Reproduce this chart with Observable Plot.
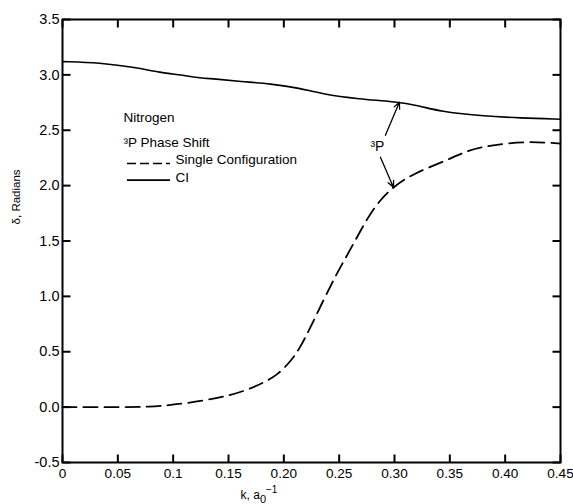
<!DOCTYPE html>
<html>
<head>
<meta charset="utf-8">
<script src="https://cdn.jsdelivr.net/npm/d3@7"></script>
<script src="https://cdn.jsdelivr.net/npm/@observablehq/plot@0.6"></script>
<style>
  html, body { margin: 0; padding: 0; background: white; }
  #chart { width: 573px; height: 504px; }
</style>
</head>
<body>
<div id="chart"></div>
<script>
// ---- data ----
const kCI     = [0, 0.034, 0.064, 0.089, 0.107, 0.125, 0.137, 0.161, 0.188, 0.215, 0.233, 0.269, 0.299, 0.323, 0.341, 0.378, 0.414, 0.45];
const deltaCI = [3.12, 3.11, 3.07, 3.02, 3.00, 2.97, 2.965, 2.94, 2.92, 2.88, 2.83, 2.78, 2.76, 2.72, 2.67, 2.63, 2.61, 2.60];

const kSC     = [0, 0.04, 0.08, 0.109, 0.14, 0.1635, 0.1816, 0.194, 0.206, 0.215, 0.224, 0.236, 0.248, 0.26, 0.2755, 0.287, 0.299, 0.317, 0.348, 0.366, 0.39, 0.42, 0.45];
const deltaSC = [0, 0, 0.0, 0.03, 0.08, 0.14, 0.22, 0.29, 0.41, 0.54, 0.72, 0.97, 1.21, 1.42, 1.71, 1.87, 1.99, 2.11, 2.23, 2.32, 2.37, 2.40, 2.38];

const xTicks      = [0, 0.05, 0.1, 0.15, 0.2, 0.25, 0.3, 0.35, 0.4, 0.45];
const xTickLabels = ["0", "0.05", "0.1", "0.15", "0.20", "0.25", "0.30", "0.35", "0.40", "0.45"];
const yTicks      = [-0.5, 0, 0.5, 1, 1.5, 2, 2.5, 3, 3.5];
const yTickLabels = ["-0.5", "0.0", "0.5", "1.0", "1.5", "2.0", "2.5", "3.0", "3.5"];

const legendTitle = ["Nitrogen", "³P Phase Shift"];
const seriesNames = ["Single Configuration", "CI"];
const annotationLabel = "³P";

// annotation anchors (data units)
const legendTextK = 0.0551;
const legendTitleDelta = [2.61, 2.39];
const legendLineK = [0.0587, 0.0976];
const legendLineDelta = [2.20, 2.05];
const legendLabelK = 0.102;
const legendLabelDelta = [2.23, 2.075];
const arrowK1 = [0.2918, 0.2873];
const arrowD1 = [2.455, 2.256];
const arrowK2 = [0.3044, 0.2990];
const arrowD2 = [2.753, 1.985];
const annotK = 0.2846, annotD = 2.35;

// ---- build tables ----
const xDomain = [0, 0.45], yDomain = [-0.5, 3.5];
const ci = kCI.map((k, i) => ({k, d: deltaCI[i]}));
const sc = kSC.map((k, i) => ({k, d: deltaSC[i]}));
const arrows = arrowK1.map((k, i) => ({x1: k, y1: arrowD1[i], x2: arrowK2[i], y2: arrowD2[i]}));
const xFmt = d => xTickLabels[xTicks.findIndex(t => Math.abs(t - d) < 1e-9)];
const yFmt = d => yTickLabels[yTicks.findIndex(t => Math.abs(t - d) < 1e-9)];

const font = "'Liberation Sans', Arial, Helvetica, sans-serif";
const W = 573, H = 504, mL = 62, mR = 13, mT = 19, mB = 42;
const fw = W - mL - mR, fh = H - mT - mB, tickLen = 8;
// tick length converted to data units
const tx = tickLen * (xDomain[1] - xDomain[0]) / fw;
const ty = tickLen * (yDomain[1] - yDomain[0]) / fh;

// tick segment tables
const bottomTicks = xTicks.map(k => ({x: k, y1: yDomain[0], y2: yDomain[0] + ty}));
const topTicks    = xTicks.map(k => ({x: k, y1: yDomain[1], y2: yDomain[1] - ty}));
const leftTicks   = yTicks.map(v => ({y: v, x1: xDomain[0], x2: xDomain[0] + tx}));
const rightTicks  = yTicks.map(v => ({y: v, x1: xDomain[1], x2: xDomain[1] - tx}));

const plot = Plot.plot({
  width: W,
  height: H,
  marginLeft: mL,
  marginRight: mR,
  marginTop: mT,
  marginBottom: mB,
  style: {fontFamily: font, fontSize: "13px", color: "black", background: "white"},
  x: {domain: xDomain},
  y: {domain: yDomain},
  marks: [
    Plot.frame({stroke: "black", strokeWidth: 2}),
    // tick labels
    Plot.axisX({anchor: "bottom", ticks: xTicks, tickSize: 0, tickPadding: 6, tickFormat: xFmt, label: null, fontSize: 13.6}),
    Plot.axisY({anchor: "left", ticks: yTicks, tickSize: 0, tickPadding: 3, tickFormat: yFmt, label: null, fontSize: 14.5}),
    // curves
    Plot.line(ci, {x: "k", y: "d", curve: "basis", stroke: "black", strokeWidth: 1.6}),
    Plot.line(sc, {x: "k", y: "d", curve: "basis", stroke: "black", strokeWidth: 1.8, strokeDasharray: "14,7"}),
    // legend
    Plot.text(legendTitle, {x: () => legendTextK, y: (d, i) => legendTitleDelta[i], text: d => d, textAnchor: "start", fontSize: 13.5}),
    Plot.ruleY([legendLineDelta[0]], {x1: legendLineK[0], x2: legendLineK[1], stroke: "black", strokeWidth: 1.6, strokeDasharray: "9,4"}),
    Plot.ruleY([legendLineDelta[1]], {x1: legendLineK[0], x2: legendLineK[1], stroke: "black", strokeWidth: 1.6}),
    Plot.text(seriesNames, {x: () => legendLabelK, y: (d, i) => legendLabelDelta[i], text: d => d, textAnchor: "start", fontSize: 13.5}),
    // annotation
    Plot.arrow(arrows, {x1: "x1", y1: "y1", x2: "x2", y2: "y2", stroke: "black", strokeWidth: 1.3, headLength: 8, headAngle: 50}),
    Plot.text([annotationLabel], {x: () => annotK, y: () => annotD, text: d => d, fontSize: 14}),
    // y-axis title
    Plot.text(["δ, Radians"], {frameAnchor: "left", y: () => 1.65, text: d => d, rotate: -90, dx: -46, fontSize: 11.5}),
    // inward ticks on all four sides
    Plot.link(bottomTicks, {x1: "x", x2: "x", y1: "y1", y2: "y2", stroke: "black", strokeWidth: 2}),
    Plot.link(topTicks,    {x1: "x", x2: "x", y1: "y1", y2: "y2", stroke: "black", strokeWidth: 2}),
    Plot.link(leftTicks,   {y1: "y", y2: "y", x1: "x1", x2: "x2", stroke: "black", strokeWidth: 2}),
    Plot.link(rightTicks,  {y1: "y", y2: "y", x1: "x1", x2: "x2", stroke: "black", strokeWidth: 2})
  ]
});

document.getElementById("chart").appendChild(plot);

// x-axis title with sub/superscripts
const xs = plot.scale("x");
const svg = d3.select(plot);
const t = svg.append("text")
  .attr("x", xs.apply(0.178))
  .attr("y", 499)
  .attr("font-family", font)
  .attr("font-size", 12)
  .attr("fill", "black");
t.append("tspan").text("k, a");
t.append("tspan").attr("font-size", 11).attr("dy", 4).text("0");
t.append("tspan").attr("font-size", 10).attr("dy", -10).text("−1");
</script>
</body>
</html>
